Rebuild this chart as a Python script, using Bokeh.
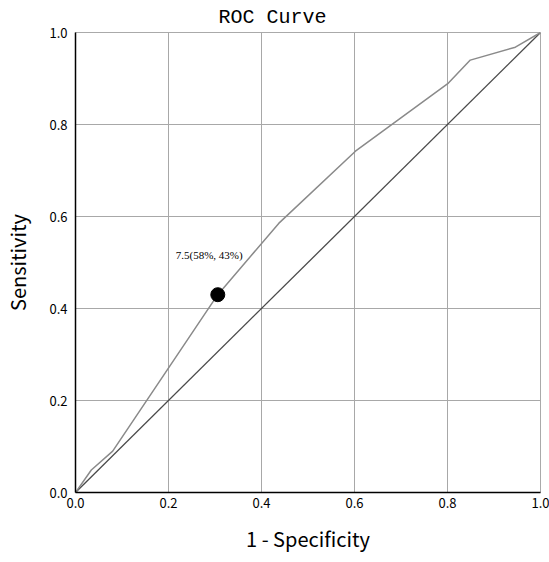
from bokeh.plotting import figure
from bokeh.models import Range1d, FixedTicker, Label
from bokeh.embed import file_html
from bokeh.resources import INLINE

# ROC curve vertices (1 - specificity, sensitivity)
fpr = [0.0, 0.034, 0.08, 0.306, 0.437, 0.602, 0.802, 0.849, 0.946, 1.0]
tpr = [0.0, 0.049, 0.09, 0.43, 0.585, 0.742, 0.89, 0.94, 0.968, 1.0]
# reference diagonal
diag_x = [0.0, 1.0]
diag_y = [0.0, 1.0]
# optimal cut-off point
cut_x = [0.306]
cut_y = [0.43]
cut_label = "7.5(58%, 43%)"
ticks = [0.0, 0.2, 0.4, 0.6, 0.8, 1.0]
tick_labels = {0.0: "0.0", 0.2: "0.2", 0.4: "0.4", 0.6: "0.6", 0.8: "0.8", 1.0: "1.0"}

FONT = "Noto Sans CJK JP"

p = figure(frame_width=465, frame_height=460,
           x_range=Range1d(0, 1), y_range=Range1d(0, 1),
           output_backend="svg", toolbar_location=None,
           title="ROC Curve",
           min_border_left=10, min_border_right=9, min_border_top=5, min_border_bottom=5)

p.title.align = "left"
p.title.offset = 143
p.title.text_font = "Liberation Mono"
p.title.text_font_size = "20px"
p.title.text_font_style = "normal"
p.title.text_color = "#000000"
p.title.standoff = 7

p.background_fill_color = "white"
p.border_fill_color = "white"
p.outline_line_color = "#aaaaaa"

for ax in (p.xaxis[0], p.yaxis[0]):
    ax.ticker = FixedTicker(ticks=ticks)
    ax.major_label_overrides = tick_labels
    ax.major_tick_out = 0
    ax.major_tick_in = 0
    ax.minor_tick_out = 0
    ax.minor_tick_in = 0
    ax.axis_line_color = "#000000"
    ax.axis_line_width = 1.5
    ax.major_label_text_font = FONT
    ax.major_label_text_font_size = "13px"
    ax.major_label_text_color = "#000000"
    ax.axis_label_text_font = FONT
    ax.axis_label_text_font_size = "20px"
    ax.axis_label_text_font_style = "normal"
    ax.axis_label_text_color = "#000000"

p.xaxis.axis_label = "1 - Specificity"
p.yaxis.axis_label = "Sensitivity"
p.xaxis.major_label_standoff = 5
p.yaxis.major_label_standoff = 8
p.xaxis.axis_label_standoff = 13
p.yaxis.axis_label_standoff = 14

for g in (p.xgrid[0], p.ygrid[0]):
    g.ticker = FixedTicker(ticks=ticks)
    g.grid_line_color = "#a8a8a8"
    g.grid_line_width = 1

p.line(diag_x, diag_y, line_color="#4a4a4a", line_width=1.3)
p.line(fpr, tpr, line_color="#8a8a8a", line_width=1.5)
p.scatter(cut_x, cut_y, size=14, fill_color="black", line_color="black")

lab = Label(x=cut_x[0], y=cut_y[0], text=cut_label, x_offset=-42, y_offset=40,
            text_font="Liberation Serif", text_font_size="11px", text_color="#000000",
            text_align="left", text_baseline="middle")
p.add_layout(lab)

open("out.html", "w").write(file_html(p, INLINE))
